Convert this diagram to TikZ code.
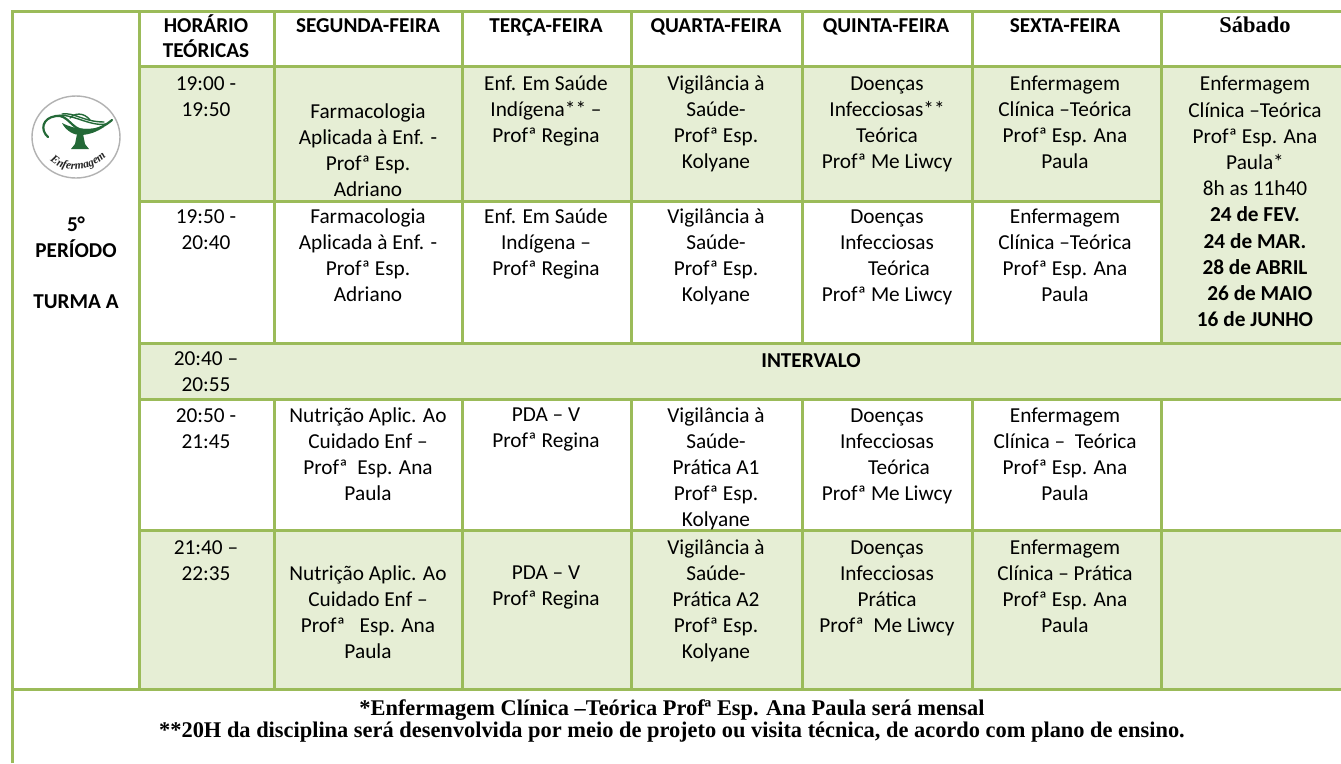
\documentclass[tikz,border=0pt]{standalone}
\usepackage{fontspec}
\usetikzlibrary{decorations.text}
\setmainfont{Carlito}
\newfontfamily\cambria{Liberation Serif}
\definecolor{gridg}{RGB}{155,187,89}
\definecolor{fillg}{RGB}{230,238,213}
\definecolor{lampg}{RGB}{35,105,55}
\tikzset{
 x=1pt,y=-1pt,
 gridline/.style={draw=gridg,line width=3pt},
 cellt/.style={align=center,font=\fontsize{21.3}{26}\selectfont,text=black,inner sep=0,anchor=north},
 headt/.style={align=center,font=\fontsize{21.2}{25.5}\selectfont\bfseries,text=black,inner sep=0,anchor=north},
 notet/.style={align=center,font=\fontsize{22.4}{21.5}\selectfont\bfseries\cambria,inner sep=0,anchor=north},
}
\begin{document}
\begin{tikzpicture}
\useasboundingbox (0,0) rectangle (1341,763);
\fill[white] (0,0) rectangle (1341,763);
\fill[fillg] (139,66) rectangle (1341,201);
\fill[fillg] (1161,201) rectangle (1341,343);
\fill[fillg] (139,343) rectangle (1341,399);
\fill[fillg] (139,530) rectangle (1341,689);
% grid
\draw[gridline] (12,763) -- (12,11) -- (1341,11);
\draw[gridline] (139,11) -- (139,689);
\foreach \cx in {274,462,631,802,972,1161}
  \draw[gridline] (\cx,11) -- (\cx,343) (\cx,399) -- (\cx,689);
\draw[gridline] (139,66) -- (1341,66);
\draw[gridline] (139,201) -- (1161,201);
\draw[gridline] (139,343) -- (1341,343);
\draw[gridline] (139,399) -- (1341,399);
\draw[gridline] (139,530) -- (1341,530);
\draw[gridline] (12,689) -- (1341,689);
% logo
\draw[black!30,line width=1.4pt] (76,137) ellipse (44 and 41);
\draw[lampg,line width=2.2pt,line cap=round] (48,137) .. controls (40,130) and (42,118) .. (56,116) .. controls (68,114) and (72,130) .. (84,130) .. controls (96,131) and (105,126) .. (112,120);
\draw[lampg,line width=1.4pt,line cap=round] (56,116) .. controls (70,112) and (90,127) .. (106,124);
\draw[lampg,line width=1.4pt,line cap=round] (62,114) .. controls (74,112) and (84,122) .. (104,122);
\draw[lampg,line width=1.4pt,line cap=round] (70,118) .. controls (74,113) and (84,112) .. (90,120);
\fill[lampg] (62,123) .. controls (66,131) and (74,135) .. (80,135) .. controls (90,135) and (98,131) .. (104,127) .. controls (90,130) and (75,130) .. (62,123) -- cycle;
\fill[lampg] (71,149) -- (75,144) -- (77,134) -- (83,134) -- (85,144) -- (89,149) -- cycle;
\path[postaction={decorate},decoration={text along path,text align=center,text={|\fontsize{11.5}{12}\selectfont\itshape\bfseries\cambria\color{black!85}|Enfermagem}}] (46,156) .. controls (58,174) and (92,176) .. (110,152);
% left
\node[headt] (per) at (76,217) {5°\\PERÍODO\\[26pt]TURMA A};
% header
\node[headt] (h0) at (206,14) {HORÁRIO\\TEÓRICAS};
\node[headt] (h1) at (368,18) {SEGUNDA-FEIRA};
\node[headt] (h2) at (546,18) {TERÇA-FEIRA};
\node[headt] (h3) at (716,18) {QUARTA-FEIRA};
\node[headt] (h4) at (886,18) {QUINTA-FEIRA};
\node[headt] (h5) at (1065,18) {SEXTA-FEIRA};
\node[font=\fontsize{22.5}{24}\selectfont\bfseries\cambria,inner sep=0,anchor=north] (h6) at (1255,17) {Sábado};
% times
\node[cellt] (t1) at (206,76) {19:00 -\\19:50};
\node[cellt] (t2) at (206,209) {19:50 -\\20:40};
\node[cellt] (t3) at (206,351) {20:40 –\\20:55};
\node[cellt] (t4) at (206,408) {20:50 -\\21:45};
\node[cellt] (t5) at (206,540) {21:40 –\\22:35};
% row 1
\node[cellt] (a11) at (368,104) {Farmacologia\\Aplicada à Enf. -\\Profª Esp.\\Adriano};
\node[cellt] (a12) at (546,76) {Enf. Em Saúde\\Indígena** –\\Profª Regina};
\node[cellt] (a13) at (716,76) {Vigilância à\\Saúde-\\Profª Esp.\\Kolyane};
\node[cellt] (a14) at (887,77) {Doenças\\Infecciosas**\\Teórica\\Profª Me Liwcy};
\node[cellt] (a15) at (1065,76) {Enfermagem\\Clínica –Teórica\\Profª Esp. Ana\\Paula};
\node[cellt,font=\fontsize{21.3}{26.2}\selectfont] (a16) at (1255,76) {Enfermagem\\Clínica –Teórica\\Profª Esp. Ana\\Paula*\\8h as 11h40\\\textbf{24 de FEV.}\\\textbf{24 de MAR.}\\\textbf{28 de ABRIL}\\\textbf{\ \ 26 de MAIO}\\\textbf{16 de JUNHO}};
% row 2
\node[cellt] (a21) at (368,209) {Farmacologia\\Aplicada à Enf. -\\Profª Esp.\\Adriano};
\node[cellt] (a22) at (546,209) {Enf. Em Saúde\\Indígena –\\Profª Regina};
\node[cellt] (a23) at (716,209) {Vigilância à\\Saúde-\\Profª Esp.\\Kolyane};
\node[cellt] (a24) at (887,210) {Doenças\\Infecciosas\\\ \ \ \ \ Teórica\\Profª Me Liwcy};
\node[cellt] (a25) at (1065,209) {Enfermagem\\Clínica –Teórica\\Profª Esp. Ana\\Paula};
\node[headt] (int) at (811,353) {INTERVALO};
% row 4
\node[cellt] (a41) at (368,408) {Nutrição Aplic. Ao\\Cuidado Enf –\\Profª\ \ Esp. Ana\\Paula};
\node[cellt] (a42) at (546,408) {PDA – V\\Profª Regina};
\node[cellt] (a43) at (716,408) {Vigilância à\\Saúde-\\Prática A1\\Profª Esp.\\Kolyane};
\node[cellt] (a44) at (887,409) {Doenças\\Infecciosas\\\ \ \ \ \ Teórica\\Profª Me Liwcy};
\node[cellt] (a45) at (1065,408) {Enfermagem\\Clínica –\ \ Teórica\\Profª Esp. Ana\\Paula};
% row 5
\node[cellt] (a51) at (368,566) {Nutrição Aplic. Ao\\Cuidado Enf –\\Profª\ \ \ Esp. Ana\\Paula};
\node[cellt] (a52) at (546,566) {PDA – V\\Profª Regina};
\node[cellt] (a53) at (716,540) {Vigilância à\\Saúde-\\Prática A2\\Profª Esp.\\Kolyane};
\node[cellt] (a54) at (887,541) {Doenças\\Infecciosas\\Prática\\Profª\ \ Me Liwcy};
\node[cellt] (a55) at (1065,540) {Enfermagem\\Clínica – Prática\\Profª Esp. Ana\\Paula};
% notes
\node[notet] (n) at (672,700) {*Enfermagem Clínica –Teórica Profª Esp. Ana Paula será mensal\\**20H da disciplina será desenvolvida por meio de projeto ou visita técnica, de acordo com plano de ensino.};
\end{tikzpicture}
\end{document}
